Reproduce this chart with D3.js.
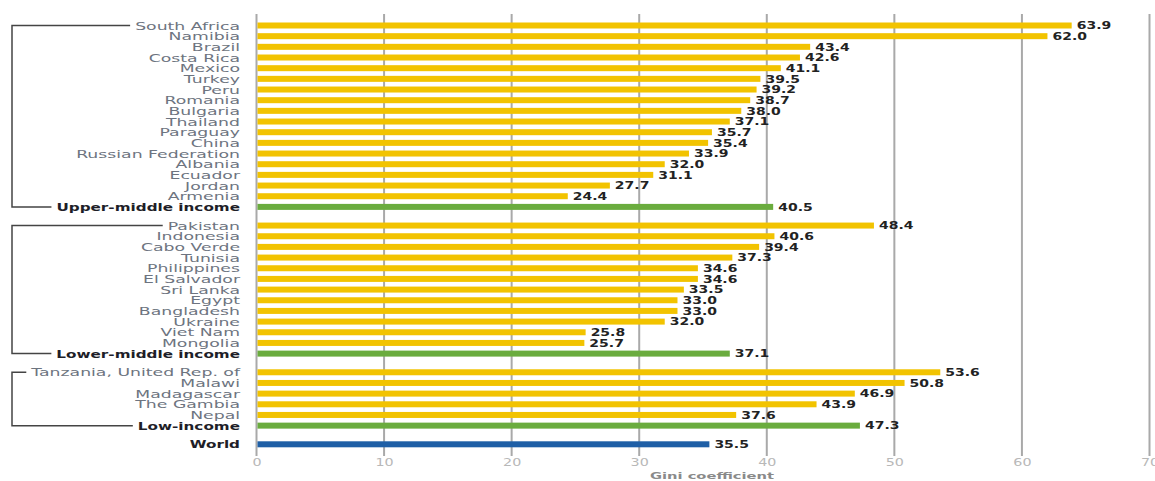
<!DOCTYPE html>
<html><head><meta charset="utf-8">
<script src="https://cdn.jsdelivr.net/npm/d3@7"></script>
<style>body{margin:0;background:#fff;} svg{display:block;}</style>
</head><body>
<svg id="c" width="1155" height="481"></svg>
<script>
const upperCountries = ["South Africa","Namibia","Brazil","Costa Rica","Mexico","Turkey","Peru","Romania","Bulgaria","Thailand","Paraguay","China","Russian Federation","Albania","Ecuador","Jordan","Armenia"];
const upperValues = [63.9,62.0,43.4,42.6,41.1,39.5,39.2,38.7,38.0,37.1,35.7,35.4,33.9,32.0,31.1,27.7,24.4];
const lowerCountries = ["Pakistan","Indonesia","Cabo Verde","Tunisia","Philippines","El Salvador","Sri Lanka","Egypt","Bangladesh","Ukraine","Viet Nam","Mongolia"];
const lowerValues = [48.4,40.6,39.4,37.3,34.6,34.6,33.5,33.0,33.0,32.0,25.8,25.7];
const lowCountries = ["Tanzania, United Rep. of","Malawi","Madagascar","The Gambia","Nepal"];
const lowValues = [53.6,50.8,46.9,43.9,37.6];
const groupNames = ["Upper-middle income","Lower-middle income","Low-income"];
const groupValues = [40.5,37.1,47.3];
const worldName = "World";
const worldValue = 35.5;
const xTicks = [0,10,20,30,40,50,60,70];
const axisTitle = "Gini coefficient";

const colors = {country:"#f2c300", group:"#6aac3e", world:"#1f5fa6"};

const groups = [
  {countries: upperCountries, values: upperValues, name: groupNames[0], value: groupValues[0]},
  {countries: lowerCountries, values: lowerValues, name: groupNames[1], value: groupValues[1]},
  {countries: lowCountries, values: lowValues, name: groupNames[2], value: groupValues[2]}
];
const rows = [];
let slot = 0;
groups.forEach((g, gi) => {
  const start = slot;
  g.countries.forEach((c, i) => { rows.push({label:c, value:g.values[i], type:"country", pos:slot}); slot += 1; });
  rows.push({label:g.name, value:g.value, type:"group", pos:slot});
  g.start = start; g.end = slot;
  slot += 1.75;
});
rows.push({label:worldName, value:worldValue, type:"world", pos:slot});

const svg = d3.select("#c");
const x = d3.scaleLinear().domain([0,70]).range([256.5,1149.5]);
const y = d3.scaleLinear().domain([0, slot]).range([25.5, 25.5 + slot*10.67]);
const barH = 6;

// gridlines
svg.append("g").selectAll("line").data(xTicks).join("line")
  .attr("x1", d=>x(d)).attr("x2", d=>x(d)).attr("y1", 14).attr("y2", 456)
  .attr("stroke", "#a9a9a9").attr("stroke-width", 2);

// bars
svg.append("g").selectAll("rect").data(rows).join("rect")
  .attr("x", x(0)+1).attr("y", d=>y(d.pos)-barH/2)
  .attr("width", d=>x(d.value)-x(0)-1).attr("height", barH)
  .attr("fill", d=>colors[d.type]);

// value labels
svg.append("g").selectAll("text").data(rows).join("text")
  .attr("transform", d=>`translate(${x(d.value)+5},${y(d.pos)+3.7}) scale(1.4,1)`)
  .attr("font-family","DejaVu Sans").attr("font-weight","bold").attr("font-size", 10)
  .attr("fill","#222").text(d=>d.value.toFixed(1));

// category labels
const labelX = 240;
const SXc = 1.57, SXg = 1.45;
const labels = svg.append("g").selectAll("text").data(rows).join("text")
  .attr("transform", d=>`translate(${labelX},${y(d.pos)+4}) scale(${d.type==="country"?SXc:SXg},1)`)
  .attr("text-anchor","end")
  .attr("font-family","DejaVu Sans")
  .attr("font-weight", d=>d.type==="country"?"normal":"bold")
  .attr("font-size", d=>d.type==="country"?11:10.5)
  .attr("fill", d=>d.type==="country"?"#6d7480":"#1e1e28")
  .text(d=>d.label);

const widthOf = {};
labels.each(function(d){ widthOf[d.label] = this.getComputedTextLength()*(d.type==="country"?SXc:SXg); });

// brackets
const bx = 12;
groups.forEach(g => {
  const top = g.countries[0], bot = g.name;
  const yt = y(g.start), yb = y(g.end);
  const p = d3.path();
  p.moveTo(labelX - widthOf[top] - 5, yt);
  p.lineTo(bx, yt);
  p.lineTo(bx, yb);
  p.lineTo(labelX - widthOf[bot] - 5, yb);
  svg.append("path").attr("d", p.toString()).attr("fill","none")
    .attr("stroke","#444").attr("stroke-width",1.5);
});

// axis tick labels
const axis = d3.axisBottom(x).tickValues(xTicks).tickSize(0).tickPadding(0);
const ag = svg.append("g").attr("transform","translate(0,458)").call(axis);
ag.select(".domain").remove();
ag.selectAll("text").attr("font-family","DejaVu Sans").attr("font-size",11).attr("fill","#b8b8b8")
  .attr("dy","0.71em").attr("transform","scale(1.3,1)");

svg.append("text").attr("transform", `translate(${(x(0)+x(70))/2+9},478.5) scale(1.55,1)`)
  .attr("text-anchor","middle").attr("font-family","DejaVu Sans").attr("font-weight","bold")
  .attr("font-size",9.5).attr("fill","#8a8a8a").text(axisTitle);
</script>
</body></html>
